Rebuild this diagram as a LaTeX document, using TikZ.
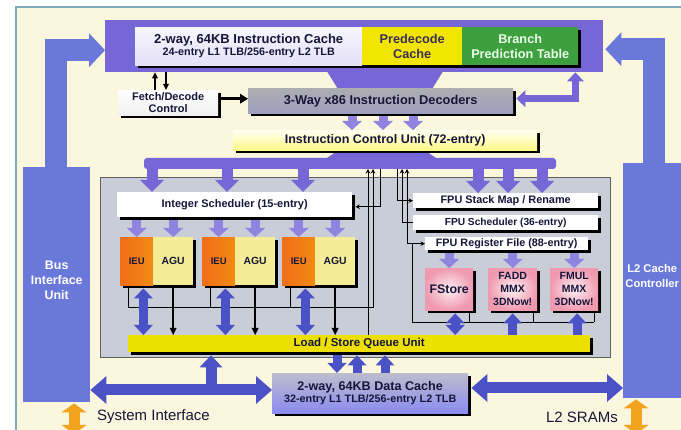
\documentclass[tikz,border=0pt]{standalone}
\usepackage{fontspec}
\setmainfont{Liberation Sans}
\usetikzlibrary{arrows.meta,shadows,calc}
\definecolor{bgc}{HTML}{FBF7DE}
\definecolor{framec}{HTML}{7FA9BF}
\definecolor{purpA}{HTML}{7666D6}
\definecolor{arrP}{HTML}{9183E0}
\definecolor{bigB}{HTML}{6A79D9}
\definecolor{busB}{HTML}{4B52C6}
\definecolor{grayA}{HTML}{C9CDD7}
\definecolor{yelP}{HTML}{F2E600}
\definecolor{grnB}{HTML}{3E9F3E}
\definecolor{lsqY}{HTML}{EDE000}
\definecolor{aguY}{HTML}{F4EC96}
\definecolor{ieuO}{HTML}{F06E18}
\definecolor{pinkA}{HTML}{F09AB0}
\definecolor{orng}{HTML}{F2A41E}
\definecolor{txt}{HTML}{16163A}
\definecolor{predT}{HTML}{3A2E5A}
\newcommand\fsz[2]{\fontsize{#1}{#2}\selectfont}
\pgfdeclarelayer{back}
\pgfdeclarelayer{mid}
\pgfsetlayers{back,mid,main}
\tikzset{
  bx/.style={anchor=north west, inner sep=0pt, align=center, text=txt, font=\bfseries},
  shad/.style={drop shadow={shadow xshift=3pt, shadow yshift=-3pt, fill=black, opacity=1}},
  parrow/.style={draw=arrP, line width=9pt, -{Triangle[width=20pt,length=9pt,line width=0pt]}},
  barrow/.style={draw=purpA, line width=11pt, -{Triangle[width=24pt,length=12pt,line width=0pt]}},
  bigarrow/.style={draw=bigB, line width=22pt, -{Triangle[width=34pt,length=16pt,line width=0pt]}},
  lparrow/.style={draw=purpA, line width=7pt, {Triangle[width=17pt,length=9pt,line width=0pt]}-{Triangle[width=17pt,length=9pt,line width=0pt]}},
  busarrow/.style={draw=busB, line width=9pt, -{Triangle[width=19pt,length=10pt,line width=0pt]}},
  busdbl/.style={draw=busB, line width=9pt, {Triangle[width=19pt,length=10pt,line width=0pt]}-{Triangle[width=19pt,length=10pt,line width=0pt]}},
  sysbus/.style={draw=busB, line width=11pt, {Triangle[width=28pt,length=16pt,line width=0pt]}-{Triangle[width=28pt,length=16pt,line width=0pt]}},
  orarrow/.style={draw=orng, line width=11pt, {Triangle[width=25pt,length=9pt,line width=0pt]}-{Triangle[width=25pt,length=9pt,line width=0pt]}},
  wire/.style={draw=black, line width=0.9pt},
  tipS/.style={-{Stealth[length=4.5pt,width=4.5pt]}},
  blk/.style={draw=black, line width=2pt, -{Triangle[width=6pt,length=6pt,line width=0pt]}},
}
\begin{document}
\begin{tikzpicture}[x=1pt,y=-1pt]
\useasboundingbox (0,0) rectangle (681,430);
\begin{pgfonlayer}{back}
  \fill[white] (0,0) rectangle (681,430);
  \filldraw[fill=bgc, draw=framec, line width=1.5pt] (16,7) rectangle (700,450);
  \node[bx, fill=grayA, draw=gray!75!black, line width=0.8pt, minimum width=510pt, minimum height=180pt] (exec) at (100,177) {};
\end{pgfonlayer}

% ---------- boxes ----------
\node[bx, fill=purpA, minimum width=498pt, minimum height=52pt] (top) at (105,20) {};
\node[bx, shad, top color=white!94!purpA, bottom color=white!80!purpA, minimum width=227pt, minimum height=38pt] (icache) at (135,27)
  {{\fsz{13}{15}2-way, 64KB Instruction Cache}\\{\fsz{10.8}{15}24-entry L1 TLB/256-entry L2 TLB}};
\node[bx, shad, fill=yelP, text=predT, minimum width=100pt, minimum height=38pt, font=\bfseries\fsz{12.7}{15}] (predec) at (362,27) {Predecode\\Cache};
\node[bx, shad, fill=grnB, text=white!92!green, minimum width=116pt, minimum height=38pt, font=\bfseries\fsz{12.7}{15}] (bpt) at (462,27) {Branch\\Prediction Table};

\node[bx, shad, top color=white, bottom color=gray!12, minimum width=100pt, minimum height=25pt, font=\bfseries\fsz{11}{12.5}] (fetch) at (118,90) {Fetch/Decode\\Control};
\node[bx, shad, top color=white!95!blue!40!gray, bottom color=white!75!blue!50!gray, minimum width=265pt, minimum height=25pt, font=\bfseries\fsz{12.8}{15}] (dec) at (248,88) {3-Way x86 Instruction Decoders};
\node[bx, shad, top color=white!95!yellow, bottom color=yellow!45!white!95!orange, minimum width=304pt, minimum height=20pt, font=\bfseries\fsz{12.5}{15}] (icu) at (233,130) {Instruction Control Unit (72-entry)};

\node[bx, shad, fill=white, minimum width=235pt, minimum height=25pt, font=\bfseries\fsz{11}{13}] (isched) at (117,192) {Integer Scheduler (15-entry)};
\node[bx, shad, left color=ieuO, right color=ieuO!80!yellow, minimum width=33pt, minimum height=48pt, font=\bfseries\fsz{9.5}{11}] (ieu1) at (120,237) {IEU};
\node[bx, shad, fill=aguY, minimum width=40pt, minimum height=48pt, font=\bfseries\fsz{10.4}{12}] (agu1) at (153,237) {AGU};
\node[bx, shad, left color=ieuO, right color=ieuO!80!yellow, minimum width=33pt, minimum height=48pt, font=\bfseries\fsz{9.5}{11}] (ieu2) at (202,237) {IEU};
\node[bx, shad, fill=aguY, minimum width=40pt, minimum height=48pt, font=\bfseries\fsz{10.4}{12}] (agu2) at (235,237) {AGU};
\node[bx, shad, left color=ieuO, right color=ieuO!80!yellow, minimum width=33pt, minimum height=48pt, font=\bfseries\fsz{9.5}{11}] (ieu3) at (282,237) {IEU};
\node[bx, shad, fill=aguY, minimum width=40pt, minimum height=48pt, font=\bfseries\fsz{10.4}{12}] (agu3) at (315,237) {AGU};

\node[bx, shad, fill=white, minimum width=185pt, minimum height=15pt, font=\bfseries\fsz{10.9}{12}] (fstack) at (413,193) {FPU Stack Map / Rename};
\node[bx, shad, fill=white, minimum width=185pt, minimum height=15pt, font=\bfseries\fsz{10.2}{12}] (fsched) at (413,215) {FPU Scheduler (36-entry)};
\node[bx, shad, fill=white, minimum width=163pt, minimum height=13pt, font=\bfseries\fsz{10.8}{12}] (freg) at (425,237) {FPU Register File (88-entry)};
\node[bx, shad, inner color=white!85!pinkA, outer color=pinkA, minimum width=48pt, minimum height=42pt, font=\bfseries\fsz{12.4}{13}] (fstore) at (425,268) {FStore};
\node[bx, shad, inner color=white!85!pinkA, outer color=pinkA, minimum width=49pt, minimum height=42pt, font=\bfseries\fsz{10.5}{13}] (fadd) at (488,268) {FADD\\MMX\\3DNow!};
\node[bx, shad, inner color=white!85!pinkA, outer color=pinkA, minimum width=48pt, minimum height=42pt, font=\bfseries\fsz{10.5}{13}] (fmul) at (550,268) {FMUL\\MMX\\3DNow!};

\node[bx, shad, fill=lsqY, minimum width=462pt, minimum height=17pt, font=\bfseries\fsz{11.5}{13}] (lsq) at (128,335) {Load / Store Queue Unit};
\node[bx, shad, top color=white!90!blue!60!gray, bottom color=blue!45!white!90!gray, minimum width=196pt, minimum height=40pt] (dcache) at (272,373)
  {{\fsz{12.6}{15}2-way, 64KB Data Cache}\\{\fsz{10.8}{15}32-entry L1 TLB/256-entry L2 TLB}};

\node[bx, fill=bigB, minimum width=67pt, minimum height=235pt] (biu) at (23,167) {};
\node[bx, fill=bigB, minimum width=70pt, minimum height=235pt] (l2) at (623,163) {};
\node[align=center, text=white, font=\bfseries\fsz{12.4}{15}] (biut) at ($(biu.center)+(0,-4)$) {Bus\\Interface\\Unit};
\node[align=center, inner sep=0pt, text=white, font=\bfseries\fsz{11.2}{15}] (l2t) at ($(l2.center)+(-6,-5)$) {L2 Cache\\Controller};

\node[anchor=west, inner sep=0pt, text=txt, font=\fsz{15}{17}] (sysl) at (97,417) {System Interface};
\node[anchor=east, inner sep=0pt, text=txt, font=\fsz{15}{17}] (sraml) at (618,417) {L2 SRAMs};

% ---------- purple buses (under boxes) ----------
\coordinate (bandTL) at (144,158);
\coordinate (bandBR) at (556,169);
\coordinate (bandM) at (0,165);
\begin{pgfonlayer}{back}
  \fill[purpA] ($(top.south west)+(222,-1)$) -- ($(top.south west)+(338,-1)$) -- ($(dec.north west)+(184,1)$) -- ($(dec.north west)+(90,1)$) -- cycle;
  \fill[purpA] ($(icu.south west)+(105,0)$) -- ($(icu.south west)+(192,0)$) -- ($(icu.south west)+(205,9)$) -- ($(icu.south west)+(92,9)$) -- cycle;
  \fill[purpA, rounded corners=3pt] (bandTL) rectangle (bandBR);
\end{pgfonlayer}

\begin{pgfonlayer}{mid}
% big L arrows
\draw[bigarrow] ($(biu.north west)+(33,0)$) |- ($(top.west)+(0,4)$);
\draw[bigarrow] ($(l2.north west)+(31,0)$) |- ($(top.east)+(2,3)$);
% branch prediction <-> decoders
\draw[lparrow] ($(dec.east)+(3,-2)$) -| ($(top.south east)+(-28,0)$);
% fetch control
\draw[blk] ($(fetch.north west)+(37,0)$) -- ($(top.south west)+(50,0)$);
\draw[blk] ($(top.south west)+(61,0)$) -- ($(fetch.north west)+(48,0)$);
\draw[draw=black, line width=3pt, -{Triangle[width=10pt,length=8pt,line width=0pt]}] ($(fetch.east)+(3,-4)$) -- ($(dec.west)+(0,-2)$);
% decoders -> ICU
\foreach \dx in {104,135,165} {
  \path ($(dec.south west)+(\dx,3)$) coordinate (p);
  \draw[parrow] (p) -- (p |- icu.north);
}
% band -> schedulers
\foreach \dx in {35,110,186} {
  \path ($(isched.north west)+(\dx,0)$) coordinate (p);
  \draw[barrow] (p |- bandM) -- (p);
}
\foreach \dx in {65,95,129} {
  \path ($(fstack.north west)+(\dx,0)$) coordinate (p);
  \draw[barrow] (p |- bandM) -- (p);
}
% scheduler -> units
\foreach \u in {ieu1,agu1,ieu2,agu2,ieu3,agu3}
  \draw[parrow] (\u.north |- isched.south) -- (\u.north);
\foreach \u in {fstore,fadd,fmul}
  \draw[parrow] (\u.north |- freg.south) -- (\u.north);
% thin control lines
\coordinate (irl) at (128,307);
\coordinate (cL1) at (368,169);
\coordinate (cL2) at (373,169);
\coordinate (cL3) at (380,169);
\coordinate (cR1) at (397,169);
\coordinate (cR2) at (402,169);
\coordinate (cR3) at (407,169);
\coordinate (floop) at (412,322);
\foreach \u in {ieu1,ieu2,ieu3} {
  \path ($(\u.south west)+(8,0)$) coordinate (p);
  \draw[wire] (p) -- (p |- irl);
}
\draw[wire, tipS] (irl) -| (cL2);
\draw[wire, tipS] (cL1 |- lsq.north) -- (cL1);
\draw[wire, tipS] (cL3) |- ($(isched.east)+(3,2)$);
\draw[wire, tipS] (cR1) |- (fstack.west);
\draw[wire, tipS] (fsched.west) -| (cR2);
\draw[wire, tipS] (cR3 |- freg.west) -- (cR3);
\draw[wire] (cR3 |- freg.west) -- (floop |- freg.west);
\draw[wire, tipS] (floop) |- (freg.west);
\draw[wire] (floop) -- ($(floop -| fmul.south east)+(-4,0)$);
\foreach \u in {fstore,fadd,fmul} {
  \path ($(\u.south east)+(-4,0)$) coordinate (p);
  \draw[wire] (p) -- (p |- floop);
}
% units <-> load/store queue
\foreach \u in {ieu1,ieu2,ieu3} {
  \path ($(\u.south east)+(-10,3)$) coordinate (p);
  \draw[busdbl] (p) -- (p |- lsq.north);
}
\foreach \u in {agu1,agu2,agu3}
  \draw[draw=black, line width=1.6pt, -{Triangle[width=7pt,length=7pt,line width=0pt]}] (\u.south) -- (\u.south |- lsq.north);
\path ($(fstore.south)+(6,3)$) coordinate (p);
\draw[busdbl] (p) -- (p |- lsq.north);
\path ($(fadd.south)+(0,3)$) coordinate (p);
\draw[busarrow] (p |- lsq.north) -- (p);
\path ($(fmul.south)+(3,3)$) coordinate (p);
\draw[busarrow] (p |- lsq.north) -- (p);
% load/store queue <-> data cache
\path ($(lsq.south west)+(209,0)$) coordinate (p);
\draw[busarrow] (p) -- (p |- dcache.north);
\foreach \dx in {229,257} {
  \path ($(lsq.south west)+(\dx,3)$) coordinate (p);
  \draw[busarrow] (p |- dcache.north) -- (p);
}
% system buses
\coordinate (busL) at (0,390);
\coordinate (busR) at (0,388);
\coordinate (bx) at (211,0);
\draw[sysbus] (biu.east |- busL) -- (dcache.west |- busL);
\draw[draw=busB, line width=11pt, -{Triangle[width=23pt,length=12pt,line width=0pt]}] (bx |- busL) -- ($(bx |- lsq.south)+(0,3)$);
\draw[sysbus] ($(dcache.east |- busR)+(3,0)$) -- (l2.west |- busR);
% external interfaces
\coordinate (sysb) at (74,434);
\coordinate (sramb) at (636,434);
\draw[orarrow] ($(biu.south west)+(51,1)$) -- (sysb);
\draw[orarrow] ($(l2.south west)+(13,1)$) -- (sramb);
\end{pgfonlayer}
\end{tikzpicture}
\end{document}
